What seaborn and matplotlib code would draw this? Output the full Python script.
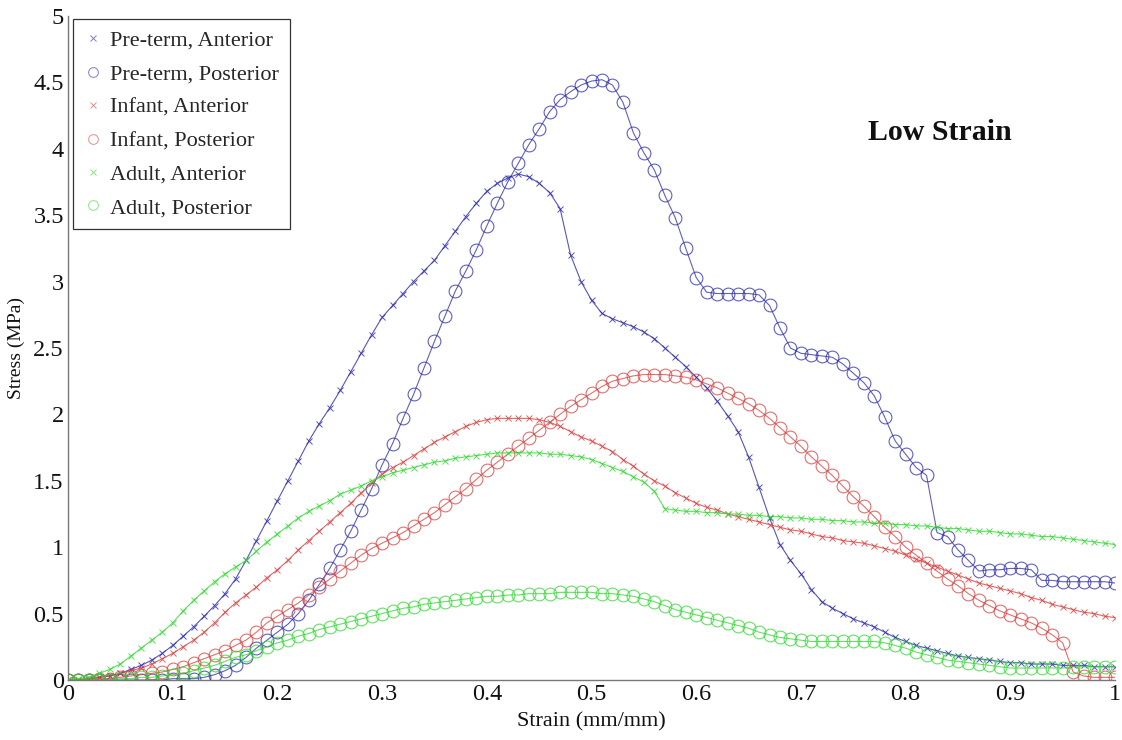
import numpy as np
import pandas as pd
import matplotlib
matplotlib.use("Agg")
import matplotlib.pyplot as plt
from matplotlib.lines import Line2D
from matplotlib.ticker import FuncFormatter
import seaborn as sns

# Strain sampling grid (mm/mm), 0.00 .. 1.00 in 0.01 steps
strain = np.round(np.arange(0, 101) / 100.0, 2)

preterm_anterior = [
    0.00, 0.00, 0.01, 0.02, 0.03, 0.05, 0.08, 0.11, 0.15, 0.20,
    0.26, 0.33, 0.40, 0.48, 0.56, 0.65, 0.76, 0.90, 1.05, 1.20,
    1.35, 1.50, 1.65, 1.80, 1.93, 2.05, 2.18, 2.32, 2.46, 2.60,
    2.73, 2.82, 2.91, 3.00, 3.08, 3.16, 3.27, 3.38, 3.49, 3.59,
    3.68, 3.74, 3.78, 3.81, 3.79, 3.74, 3.67, 3.55, 3.20, 3.00,
    2.86, 2.76, 2.72, 2.69, 2.66, 2.62, 2.57, 2.50, 2.43, 2.36,
    2.28, 2.20, 2.10, 1.99, 1.87, 1.68, 1.45, 1.22, 1.02, 0.90,
    0.80, 0.68, 0.59, 0.54, 0.50, 0.46, 0.43, 0.40, 0.36, 0.32,
    0.29, 0.26, 0.24, 0.22, 0.20, 0.18, 0.17, 0.16, 0.15, 0.14,
    0.13, 0.13, 0.12, 0.12, 0.12, 0.11, 0.11, 0.11, 0.10, 0.10,
    0.10]

preterm_posterior = [
    0.00, 0.00, 0.00, 0.00, 0.00, 0.00, 0.00, 0.00, 0.00, 0.00,
    0.01, 0.01, 0.01, 0.02, 0.04, 0.07, 0.11, 0.17, 0.24, 0.30,
    0.36, 0.42, 0.50, 0.60, 0.72, 0.84, 0.98, 1.12, 1.28, 1.44,
    1.62, 1.78, 1.97, 2.15, 2.35, 2.55, 2.74, 2.93, 3.08, 3.24,
    3.42, 3.59, 3.75, 3.89, 4.03, 4.15, 4.28, 4.37, 4.43, 4.48,
    4.51, 4.52, 4.48, 4.35, 4.12, 3.97, 3.84, 3.65, 3.48, 3.25,
    3.03, 2.92, 2.91, 2.91, 2.91, 2.91, 2.90, 2.82, 2.65, 2.50,
    2.46, 2.45, 2.44, 2.43, 2.38, 2.31, 2.24, 2.14, 1.98, 1.80,
    1.70, 1.60, 1.54, 1.11, 1.08, 0.98, 0.90, 0.82, 0.83, 0.83,
    0.84, 0.84, 0.83, 0.75, 0.75, 0.74, 0.74, 0.74, 0.74, 0.74,
    0.73]

infant_anterior = [
    0.00, 0.00, 0.01, 0.02, 0.03, 0.05, 0.07, 0.09, 0.12, 0.16,
    0.20, 0.25, 0.30, 0.36, 0.43, 0.51, 0.58, 0.64, 0.70, 0.77,
    0.83, 0.90, 0.98, 1.05, 1.12, 1.19, 1.26, 1.33, 1.41, 1.48,
    1.55, 1.60, 1.64, 1.69, 1.74, 1.79, 1.83, 1.87, 1.91, 1.94,
    1.96, 1.97, 1.97, 1.97, 1.97, 1.96, 1.94, 1.91, 1.87, 1.83,
    1.80, 1.76, 1.72, 1.66, 1.61, 1.55, 1.50, 1.46, 1.41, 1.37,
    1.33, 1.30, 1.28, 1.25, 1.23, 1.21, 1.19, 1.17, 1.15, 1.13,
    1.12, 1.10, 1.08, 1.07, 1.05, 1.04, 1.03, 1.01, 0.99, 0.97,
    0.94, 0.91, 0.88, 0.85, 0.82, 0.79, 0.76, 0.73, 0.71, 0.69,
    0.67, 0.65, 0.62, 0.60, 0.57, 0.55, 0.53, 0.51, 0.50, 0.48,
    0.47]

infant_posterior = [
    0.00, 0.00, 0.00, 0.01, 0.01, 0.02, 0.03, 0.04, 0.05, 0.06,
    0.08, 0.10, 0.13, 0.16, 0.19, 0.22, 0.26, 0.30, 0.36, 0.43,
    0.48, 0.53, 0.58, 0.64, 0.70, 0.76, 0.82, 0.88, 0.94, 0.99,
    1.03, 1.07, 1.11, 1.16, 1.21, 1.26, 1.32, 1.38, 1.44, 1.51,
    1.58, 1.64, 1.70, 1.76, 1.82, 1.88, 1.94, 2.00, 2.06, 2.11,
    2.16, 2.21, 2.25, 2.27, 2.29, 2.30, 2.30, 2.30, 2.29, 2.28,
    2.26, 2.23, 2.20, 2.16, 2.12, 2.08, 2.03, 1.97, 1.90, 1.83,
    1.76, 1.68, 1.61, 1.54, 1.46, 1.38, 1.31, 1.23, 1.15, 1.08,
    1.00, 0.94, 0.88, 0.82, 0.76, 0.71, 0.65, 0.60, 0.56, 0.52,
    0.49, 0.46, 0.43, 0.39, 0.34, 0.28, 0.06, 0.03, 0.02, 0.02,
    0.02]

adult_anterior = [
    0.00, 0.01, 0.02, 0.05, 0.08, 0.12, 0.18, 0.24, 0.30, 0.36,
    0.43, 0.52, 0.60, 0.67, 0.74, 0.80, 0.85, 0.90, 0.97, 1.04,
    1.10, 1.16, 1.22, 1.27, 1.31, 1.35, 1.40, 1.43, 1.46, 1.50,
    1.53, 1.56, 1.58, 1.60, 1.62, 1.64, 1.65, 1.67, 1.68, 1.69,
    1.70, 1.71, 1.71, 1.71, 1.71, 1.71, 1.70, 1.70, 1.69, 1.68,
    1.66, 1.63, 1.60, 1.57, 1.53, 1.49, 1.42, 1.29, 1.28, 1.27,
    1.27, 1.26, 1.26, 1.25, 1.25, 1.24, 1.24, 1.23, 1.23, 1.22,
    1.22, 1.21, 1.21, 1.20, 1.20, 1.19, 1.19, 1.18, 1.18, 1.17,
    1.17, 1.16, 1.16, 1.15, 1.14, 1.14, 1.13, 1.12, 1.12, 1.11,
    1.10, 1.10, 1.09, 1.08, 1.08, 1.07, 1.06, 1.05, 1.04, 1.03,
    1.02]

adult_posterior = [
    0.00, 0.00, 0.00, 0.00, 0.00, 0.01, 0.01, 0.02, 0.02, 0.03,
    0.04, 0.05, 0.07, 0.09, 0.11, 0.14, 0.17, 0.19, 0.22, 0.25,
    0.28, 0.30, 0.33, 0.35, 0.38, 0.40, 0.42, 0.44, 0.46, 0.48,
    0.50, 0.52, 0.54, 0.55, 0.57, 0.58, 0.59, 0.60, 0.61, 0.62,
    0.63, 0.63, 0.64, 0.64, 0.65, 0.65, 0.65, 0.66, 0.66, 0.66,
    0.66, 0.65, 0.65, 0.64, 0.63, 0.61, 0.59, 0.56, 0.53, 0.51,
    0.49, 0.47, 0.45, 0.43, 0.41, 0.39, 0.36, 0.34, 0.32, 0.31,
    0.30, 0.29, 0.29, 0.29, 0.29, 0.29, 0.29, 0.29, 0.28, 0.26,
    0.24, 0.21, 0.19, 0.17, 0.15, 0.14, 0.13, 0.12, 0.11, 0.10,
    0.09, 0.09, 0.09, 0.09, 0.09, 0.09, 0.10, 0.10, 0.10, 0.10,
    0.10]

series_labels = ["Pre-term, Anterior", "Pre-term, Posterior",
                 "Infant, Anterior", "Infant, Posterior",
                 "Adult, Anterior", "Adult, Posterior"]
series_values = [preterm_anterior, preterm_posterior, infant_anterior,
                 infant_posterior, adult_anterior, adult_posterior]

x_ticks = [0, 0.1, 0.2, 0.3, 0.4, 0.5, 0.6, 0.7, 0.8, 0.9, 1]
y_ticks = [0, 0.5, 1, 1.5, 2, 2.5, 3, 3.5, 4, 4.5, 5]

df = pd.concat([pd.DataFrame({"strain": strain, "stress": vals, "series": lab})
                for lab, vals in zip(series_labels, series_values)],
               ignore_index=True)

colors = {"Pre-term, Anterior": "#2b2ba8", "Pre-term, Posterior": "#2b2ba8",
          "Infant, Anterior": "#d84040", "Infant, Posterior": "#d84040",
          "Adult, Anterior": "#30d830", "Adult, Posterior": "#30d830"}
markers = {"Pre-term, Anterior": "x", "Pre-term, Posterior": "o",
           "Infant, Anterior": "x", "Infant, Posterior": "o",
           "Adult, Anterior": "x", "Adult, Posterior": "o"}

sns.set_theme(style="white")
plt.rcParams["font.family"] = ["Liberation Serif", "DejaVu Serif"]

fig = plt.figure(figsize=(11.22, 7.40), dpi=100)
ax = fig.add_axes([0.0606, 0.0811, 0.9332, 0.8973])

for lab in series_labels:
    sub = df[df["series"] == lab]
    m = markers[lab]
    c = colors[lab]
    if m == "o":
        sns.lineplot(data=sub, x="strain", y="stress", ax=ax, color=c,
                     lw=0.8, marker="o", markersize=9.2, markerfacecolor="none",
                     markeredgecolor=c, markeredgewidth=0.8, alpha=0.75,
                     sort=False, legend=False, estimator=None)
    else:
        sns.lineplot(data=sub, x="strain", y="stress", ax=ax, color=c,
                     lw=0.8, marker="x", markersize=4.5, markeredgecolor=c,
                     markeredgewidth=0.7, alpha=0.8,
                     sort=False, legend=False, estimator=None)

ax.set_xlim(0, 1)
ax.set_ylim(0, 5)
ax.set_xticks(x_ticks)
ax.set_yticks(y_ticks)
fmt = FuncFormatter(lambda v, p: f"{v:g}")
ax.xaxis.set_major_formatter(fmt)
ax.yaxis.set_major_formatter(fmt)
ax.tick_params(axis="both", direction="in", length=6, width=0.8,
               labelsize=17.5, colors="#777777", labelcolor="#111111", pad=3)
for s in ["top", "right"]:
    ax.spines[s].set_visible(False)
for s in ["left", "bottom"]:
    ax.spines[s].set_color("#777777")
    ax.spines[s].set_linewidth(1.0)

ax.set_xlabel("Strain (mm/mm)", fontsize=16, labelpad=5, color="#111111")
ax.set_ylabel("Stress (MPa)", fontsize=14, labelpad=6, color="#111111")

ax.text(0.833, 0.825, "Low Strain", transform=ax.transAxes, fontsize=21.5,
        fontweight="bold", ha="center", va="center", color="#111111")

handles = []
for lab in series_labels:
    m = markers[lab]
    c = colors[lab]
    if m == "o":
        h = Line2D([], [], linestyle="none", marker="o", markersize=7,
                   markerfacecolor="none", markeredgecolor=c,
                   markeredgewidth=0.7, alpha=0.6)
    else:
        h = Line2D([], [], linestyle="none", marker="x", markersize=5,
                   markeredgecolor=c, markeredgewidth=0.7, alpha=0.6)
    handles.append(h)
leg = ax.legend(handles, series_labels, loc="upper left",
                bbox_to_anchor=(0.005, 0.995), fontsize=16, frameon=True,
                fancybox=False, edgecolor="#333333", framealpha=1,
                handlelength=0.75, handletextpad=0.4, labelspacing=0.58,
                borderpad=0.5, borderaxespad=0.0)
leg.get_frame().set_linewidth(0.9)

fig.savefig("out.png", dpi=100)
